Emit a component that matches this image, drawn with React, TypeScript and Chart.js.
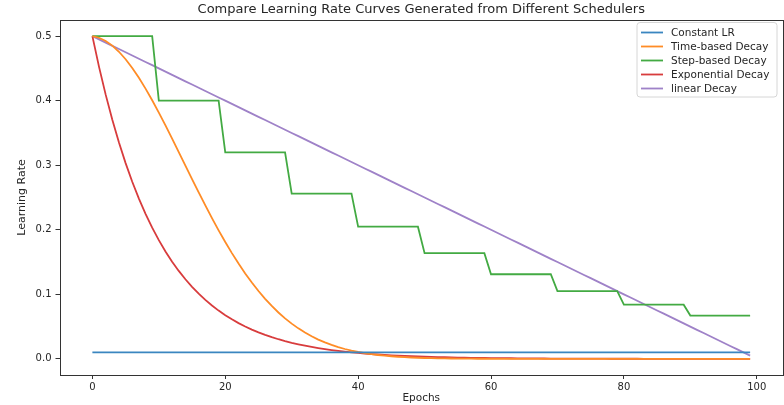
import React, { useEffect, useRef } from "react";
import { Chart, registerables } from "chart.js";

Chart.register(...registerables);

const epochs = [
  0, 1, 2, 3, 4, 5, 6, 7, 8, 9,
  10, 11, 12, 13, 14, 15, 16, 17, 18, 19,
  20, 21, 22, 23, 24, 25, 26, 27, 28, 29,
  30, 31, 32, 33, 34, 35, 36, 37, 38, 39,
  40, 41, 42, 43, 44, 45, 46, 47, 48, 49,
  50, 51, 52, 53, 54, 55, 56, 57, 58, 59,
  60, 61, 62, 63, 64, 65, 66, 67, 68, 69,
  70, 71, 72, 73, 74, 75, 76, 77, 78, 79,
  80, 81, 82, 83, 84, 85, 86, 87, 88, 89,
  90, 91, 92, 93, 94, 95, 96, 97, 98, 99,
];

const constantLR = [
  0.01, 0.01, 0.01, 0.01, 0.01, 0.01, 0.01, 0.01, 0.01, 0.01,
  0.01, 0.01, 0.01, 0.01, 0.01, 0.01, 0.01, 0.01, 0.01, 0.01,
  0.01, 0.01, 0.01, 0.01, 0.01, 0.01, 0.01, 0.01, 0.01, 0.01,
  0.01, 0.01, 0.01, 0.01, 0.01, 0.01, 0.01, 0.01, 0.01, 0.01,
  0.01, 0.01, 0.01, 0.01, 0.01, 0.01, 0.01, 0.01, 0.01, 0.01,
  0.01, 0.01, 0.01, 0.01, 0.01, 0.01, 0.01, 0.01, 0.01, 0.01,
  0.01, 0.01, 0.01, 0.01, 0.01, 0.01, 0.01, 0.01, 0.01, 0.01,
  0.01, 0.01, 0.01, 0.01, 0.01, 0.01, 0.01, 0.01, 0.01, 0.01,
  0.01, 0.01, 0.01, 0.01, 0.01, 0.01, 0.01, 0.01, 0.01, 0.01,
  0.01, 0.01, 0.01, 0.01, 0.01, 0.01, 0.01, 0.01, 0.01, 0.01,
];

const timeBasedDecay = [
  0.5, 0.49751, 0.49258, 0.4853, 0.47578, 0.46418, 0.45066, 0.43542, 0.41867, 0.40064,
  0.38156, 0.36167, 0.3412, 0.32038, 0.29942, 0.27853, 0.2579, 0.23769, 0.21807, 0.19915,
  0.18104, 0.16384, 0.14761, 0.13238, 0.1182, 0.10507, 0.09298, 0.08192, 0.07186, 0.06276,
  0.05457, 0.04725, 0.04073, 0.03496, 0.02988, 0.02543, 0.02155, 0.01819, 0.01528, 0.01279,
  0.01066, 0.00884, 0.00731, 0.00601, 0.00493, 0.00402, 0.00327, 0.00265, 0.00214, 0.00172,
  0.00137, 0.00109, 0.00087, 0.00069, 0.00054, 0.00042, 0.00033, 0.00026, 0.0002, 0.00015,
  0.00012, 0.00009, 0.00007, 0.00005, 0.00004, 0.00003, 0.00002, 0.00002, 0.00001, 0.00001,
  0.00001, 0, 0, 0, 0, 0, 0, 0, 0, 0,
  0, 0, 0, 0, 0, 0, 0, 0, 0, 0,
  0, 0, 0, 0, 0, 0, 0, 0, 0, 0,
];

const stepBasedDecay = [
  0.5, 0.5, 0.5, 0.5, 0.5, 0.5, 0.5, 0.5, 0.5, 0.5,
  0.4, 0.4, 0.4, 0.4, 0.4, 0.4, 0.4, 0.4, 0.4, 0.4,
  0.32, 0.32, 0.32, 0.32, 0.32, 0.32, 0.32, 0.32, 0.32, 0.32,
  0.256, 0.256, 0.256, 0.256, 0.256, 0.256, 0.256, 0.256, 0.256, 0.256,
  0.2048, 0.2048, 0.2048, 0.2048, 0.2048, 0.2048, 0.2048, 0.2048, 0.2048, 0.2048,
  0.16384, 0.16384, 0.16384, 0.16384, 0.16384, 0.16384, 0.16384, 0.16384, 0.16384, 0.16384,
  0.131072, 0.131072, 0.131072, 0.131072, 0.131072, 0.131072, 0.131072, 0.131072, 0.131072, 0.131072,
  0.104858, 0.104858, 0.104858, 0.104858, 0.104858, 0.104858, 0.104858, 0.104858, 0.104858, 0.104858,
  0.083886, 0.083886, 0.083886, 0.083886, 0.083886, 0.083886, 0.083886, 0.083886, 0.083886, 0.083886,
  0.067109, 0.067109, 0.067109, 0.067109, 0.067109, 0.067109, 0.067109, 0.067109, 0.067109, 0.067109,
];

const exponentialDecay = [
  0.5, 0.45242, 0.40937, 0.37041, 0.33516, 0.30327, 0.27441, 0.24829, 0.22466, 0.20328,
  0.18394, 0.16644, 0.1506, 0.13627, 0.1233, 0.11157, 0.10095, 0.09134, 0.08265, 0.07478,
  0.06767, 0.06123, 0.0554, 0.05013, 0.04536, 0.04104, 0.03714, 0.0336, 0.03041, 0.02751,
  0.02489, 0.02252, 0.02038, 0.01844, 0.01669, 0.0151, 0.01366, 0.01236, 0.01119, 0.01012,
  0.00916, 0.00829, 0.0075, 0.00678, 0.00614, 0.00555, 0.00503, 0.00455, 0.00411, 0.00372,
  0.00337, 0.00305, 0.00276, 0.0025, 0.00226, 0.00204, 0.00185, 0.00167, 0.00151, 0.00137,
  0.00124, 0.00112, 0.00101, 0.00092, 0.00083, 0.00075, 0.00068, 0.00061, 0.00056, 0.0005,
  0.00045, 0.00041, 0.00037, 0.00034, 0.0003, 0.00028, 0.00025, 0.00023, 0.0002, 0.00019,
  0.00017, 0.00015, 0.00014, 0.00012, 0.00011, 0.0001, 0.00009, 0.00008, 0.00008, 0.00007,
  0.00006, 0.00006, 0.00005, 0.00005, 0.00004, 0.00004, 0.00003, 0.00003, 0.00003, 0.00003,
];

const linearDecay = [
  0.5, 0.495, 0.49, 0.485, 0.48, 0.475, 0.47, 0.465, 0.46, 0.455,
  0.45, 0.445, 0.44, 0.435, 0.43, 0.425, 0.42, 0.415, 0.41, 0.405,
  0.4, 0.395, 0.39, 0.385, 0.38, 0.375, 0.37, 0.365, 0.36, 0.355,
  0.35, 0.345, 0.34, 0.335, 0.33, 0.325, 0.32, 0.315, 0.31, 0.305,
  0.3, 0.295, 0.29, 0.285, 0.28, 0.275, 0.27, 0.265, 0.26, 0.255,
  0.25, 0.245, 0.24, 0.235, 0.23, 0.225, 0.22, 0.215, 0.21, 0.205,
  0.2, 0.195, 0.19, 0.185, 0.18, 0.175, 0.17, 0.165, 0.16, 0.155,
  0.15, 0.145, 0.14, 0.135, 0.13, 0.125, 0.12, 0.115, 0.11, 0.105,
  0.1, 0.095, 0.09, 0.085, 0.08, 0.075, 0.07, 0.065, 0.06, 0.055,
  0.05, 0.045, 0.04, 0.035, 0.03, 0.025, 0.02, 0.015, 0.01, 0.005,
];

const seriesLabels = ["Constant LR", "Time-based Decay", "Step-based Decay", "Exponential Decay", "linear Decay"];
const seriesColors = ["#3a86c0", "#ff8c26", "#43aa43", "#d83c3d", "#9f82c8"];
const xTicks = [0, 20, 40, 60, 80, 100];
const yTicks = [0, 0.1, 0.2, 0.3, 0.4, 0.5];

const titleText = "Compare Learning Rate Curves Generated from Different Schedulers";
const FONT = "'DejaVu Sans', sans-serif";
const TEXT_COLOR = "#262626";

const titlePlugin = {
  id: "areaTitle",
  afterDraw(chart: any) {
    const { ctx, chartArea } = chart;
    ctx.save();
    ctx.font = `13px ${FONT}`;
    ctx.fillStyle = TEXT_COLOR;
    ctx.textAlign = "center";
    ctx.textBaseline = "middle";
    ctx.fillText(titleText, (chartArea.left + chartArea.right) / 2, 9.5);
    ctx.restore();
  },
};

const framePlugin = {
  id: "frame",
  afterDraw(chart: any) {
    const { ctx, chartArea } = chart;
    ctx.save();
    ctx.strokeStyle = "#333";
    ctx.lineWidth = 1;
    ctx.strokeRect(
      Math.round(chartArea.left) + 0.5,
      Math.round(chartArea.top) + 0.5,
      Math.round(chartArea.right - chartArea.left) - 1,
      Math.round(chartArea.bottom - chartArea.top)
    );
    ctx.restore();
  },
};

const legendPlugin = {
  id: "boxLegend",
  afterDraw(chart: any) {
    const { ctx, chartArea } = chart;
    const ds = chart.data.datasets;
    const right = chartArea.right - 6;
    const top = chartArea.top + 2.5;
    const width = 140;
    const rowH = 14;
    const height = ds.length * rowH + 4.5;
    const left = right - width;
    ctx.save();
    ctx.beginPath();
    const r = 3;
    ctx.moveTo(left + r, top);
    ctx.lineTo(right - r, top);
    ctx.quadraticCurveTo(right, top, right, top + r);
    ctx.lineTo(right, top + height - r);
    ctx.quadraticCurveTo(right, top + height, right - r, top + height);
    ctx.lineTo(left + r, top + height);
    ctx.quadraticCurveTo(left, top + height, left, top + height - r);
    ctx.lineTo(left, top + r);
    ctx.quadraticCurveTo(left, top, left + r, top);
    ctx.closePath();
    ctx.fillStyle = "rgba(255,255,255,0.85)";
    ctx.fill();
    ctx.strokeStyle = "#d6d6d6";
    ctx.lineWidth = 1;
    ctx.stroke();
    ctx.font = `10.5px ${FONT}`;
    ctx.textBaseline = "middle";
    ctx.textAlign = "left";
    ds.forEach((d: any, i: number) => {
      const y = top + 10 + i * rowH;
      ctx.strokeStyle = d.borderColor;
      ctx.lineWidth = 1.8;
      ctx.beginPath();
      ctx.moveTo(left + 4, y);
      ctx.lineTo(left + 26, y);
      ctx.stroke();
      ctx.fillStyle = TEXT_COLOR;
      ctx.fillText(d.label, left + 34, y + 0.5);
    });
    ctx.restore();
  },
};

export default function App() {
  const canvasRef = useRef<HTMLCanvasElement | null>(null);

  useEffect(() => {
    if (!canvasRef.current) return;
    const seriesData = [constantLR, timeBasedDecay, stepBasedDecay, exponentialDecay, linearDecay];
    const chart = new Chart(canvasRef.current, {
      type: "line",
      data: {
        labels: epochs,
        datasets: seriesData.map((values, i) => ({
          label: seriesLabels[i],
          data: values,
          borderColor: seriesColors[i],
          backgroundColor: seriesColors[i],
          borderWidth: 1.8,
          pointRadius: 0,
          tension: 0,
          fill: false,
        })),
      },
      options: {
        animation: false,
        responsive: false,
        devicePixelRatio: 1,
        layout: { padding: { left: 0, right: 1, top: 20, bottom: 0 } },
        plugins: {
          legend: { display: false },
          tooltip: { enabled: false },
          title: { display: false },
        },
        scales: {
          x: {
            type: "linear",
            min: -4.95,
            max: 103.95,
            afterBuildTicks: (scale: any) => {
              scale.ticks = xTicks.map((v) => ({ value: v }));
            },
            afterFit: (scale: any) => {
              scale.height = 30;
            },
            ticks: {
              color: TEXT_COLOR,
              font: { family: FONT, size: 10 },
              padding: 2,
              maxRotation: 0,
              callback: (v: any) => String(v),
            },
            grid: {
              display: true,
              drawOnChartArea: false,
              drawTicks: true,
              tickLength: 4,
              color: "#333",
            },
            border: { display: false },
            title: {
              display: true,
              text: "Epochs",
              color: TEXT_COLOR,
              font: { family: FONT, size: 10.5, lineHeight: 1.2 },
              padding: { top: 0, bottom: 0 },
            },
          },
          y: {
            type: "linear",
            min: -0.025,
            max: 0.525,
            afterBuildTicks: (scale: any) => {
              scale.ticks = yTicks.map((v) => ({ value: v }));
            },
            afterFit: (scale: any) => {
              scale.width = 59.5;
            },
            ticks: {
              color: TEXT_COLOR,
              font: { family: FONT, size: 10 },
              padding: 4,
              callback: (v: any) => Number(v).toFixed(1),
            },
            grid: {
              display: true,
              drawOnChartArea: false,
              drawTicks: true,
              tickLength: 4,
              color: "#333",
            },
            border: { display: false },
            title: {
              display: true,
              text: "Learning Rate",
              color: TEXT_COLOR,
              font: { family: FONT, size: 11, lineHeight: 1.2 },
              padding: { top: 15.4, bottom: 0 },
            },
          },
        },
      },
      plugins: [framePlugin, legendPlugin, titlePlugin],
    } as any);
    return () => chart.destroy();
  }, []);

  return (
    <div style={{ position: "fixed", left: 0, top: 0, width: 784, height: 405, background: "#fff" }}>
      <canvas ref={canvasRef} width={784} height={405} style={{ display: "block" }} />
    </div>
  );
}
